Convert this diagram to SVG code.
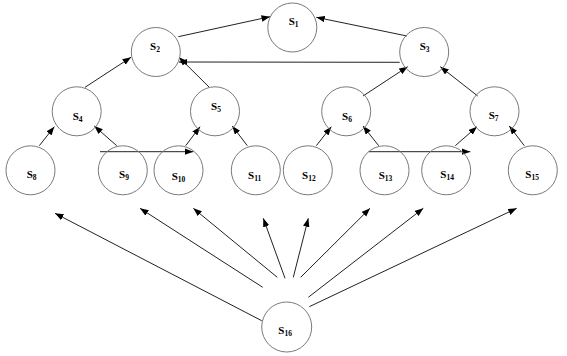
<svg xmlns="http://www.w3.org/2000/svg" width="567" height="356" viewBox="0 0 567 356">
<defs>
<marker id="ah" markerUnits="userSpaceOnUse" markerWidth="9" markerHeight="7" refX="8.5" refY="3.25" orient="auto">
<path d="M0,0 L8.5,3.25 L0,6.5 z" fill="#000"/>
</marker>
</defs>
<style>
.n circle{fill:none;stroke:#7a7a7a;stroke-width:1}
.n text{font-family:"Liberation Serif","Times New Roman",serif;font-weight:bold;font-size:11px;fill:#000}
.n tspan.s{font-size:7.5px}
#edges line{stroke:#222;stroke-width:1;marker-end:url(#ah)}
</style>
<rect width="567" height="356" fill="#fff"/>
<g id="edges">
<line x1="178.3" y1="36.7" x2="270" y2="16.7"/>
<line x1="407" y1="36" x2="316.3" y2="17.3"/>
<line x1="399.7" y1="62.3" x2="179" y2="62"/>
<line x1="85" y1="87.3" x2="131" y2="57.3"/>
<line x1="209.3" y1="87.3" x2="179" y2="57.3"/>
<line x1="39.3" y1="145.7" x2="54.3" y2="126.7"/>
<line x1="116.7" y1="145.7" x2="94.3" y2="126"/>
<line x1="185.7" y1="145.7" x2="200" y2="126.7"/>
<line x1="247.3" y1="145.7" x2="232.3" y2="126"/>
<line x1="100" y1="151.7" x2="193.3" y2="151.7"/>
<line x1="363" y1="96" x2="407.7" y2="66.7"/>
<line x1="477.7" y1="96" x2="440.3" y2="66.7"/>
<line x1="316.3" y1="145.7" x2="331.3" y2="126.7"/>
<line x1="378.7" y1="145.7" x2="363" y2="126"/>
<line x1="455.3" y1="145.7" x2="477" y2="126.7"/>
<line x1="524.3" y1="145.7" x2="509.3" y2="126"/>
<line x1="368.7" y1="151.7" x2="470.3" y2="151.7"/>
<line x1="261.7" y1="320.7" x2="55" y2="213.3"/>
<line x1="262.7" y1="287.3" x2="140" y2="208.3"/>
<line x1="277.3" y1="277.3" x2="193.3" y2="208.3"/>
<line x1="285" y1="278.3" x2="263.3" y2="218.3"/>
<line x1="293.3" y1="277.3" x2="308.3" y2="218.3"/>
<line x1="300.7" y1="277.3" x2="370" y2="208.3"/>
<line x1="308.3" y1="297.3" x2="423.3" y2="208.3"/>
<line x1="309.3" y1="306.7" x2="516.7" y2="208.3"/>
</g>
<g id="s1" class="n"><circle cx="292.3" cy="27.5" r="24.5"/><text x="288.7" y="25">S<tspan class="s" dy="2">1</tspan></text></g>
<g id="s2" class="n"><circle cx="155.8" cy="52" r="24.5"/><text x="150" y="50">S<tspan class="s" dy="2">2</tspan></text></g>
<g id="s3" class="n"><circle cx="424.2" cy="52" r="24.5"/><text x="419.7" y="50">S<tspan class="s" dy="2">3</tspan></text></g>
<g id="s4" class="n"><circle cx="76.7" cy="111.3" r="24.5"/><text x="72.7" y="120">S<tspan class="s" dy="2">4</tspan></text></g>
<g id="s5" class="n"><circle cx="215" cy="111.3" r="24.5"/><text x="211" y="110">S<tspan class="s" dy="2">5</tspan></text></g>
<g id="s6" class="n"><circle cx="346.2" cy="111.3" r="24.5"/><text x="342" y="120">S<tspan class="s" dy="2">6</tspan></text></g>
<g id="s7" class="n"><circle cx="494.5" cy="111.3" r="24.5"/><text x="488.7" y="119">S<tspan class="s" dy="2">7</tspan></text></g>
<g id="s8" class="n"><circle cx="30.5" cy="170.3" r="24.5"/><text x="26.7" y="178">S<tspan class="s" dy="2">8</tspan></text></g>
<g id="s9" class="n"><circle cx="122.8" cy="170.3" r="24.5"/><text x="119" y="178">S<tspan class="s" dy="2">9</tspan></text></g>
<g id="s10" class="n"><circle cx="178.5" cy="170.3" r="24.5"/><text x="171.7" y="180">S<tspan class="s" dy="2">10</tspan></text></g>
<g id="s11" class="n"><circle cx="255.8" cy="170.3" r="24.5"/><text x="248" y="179">S<tspan class="s" dy="2">11</tspan></text></g>
<g id="s12" class="n"><circle cx="307.8" cy="170.3" r="24.5"/><text x="302" y="179">S<tspan class="s" dy="2">12</tspan></text></g>
<g id="s13" class="n"><circle cx="384.5" cy="170.3" r="24.5"/><text x="378.7" y="179">S<tspan class="s" dy="2">13</tspan></text></g>
<g id="s14" class="n"><circle cx="446.2" cy="170.3" r="24.5"/><text x="440.3" y="178">S<tspan class="s" dy="2">14</tspan></text></g>
<g id="s15" class="n"><circle cx="532.8" cy="170.3" r="24.5"/><text x="525.3" y="178">S<tspan class="s" dy="2">15</tspan></text></g>
<g id="s16" class="n"><circle cx="286.7" cy="327" r="25"/><text x="278.3" y="334">S<tspan class="s" dy="2">16</tspan></text></g>
</svg>
